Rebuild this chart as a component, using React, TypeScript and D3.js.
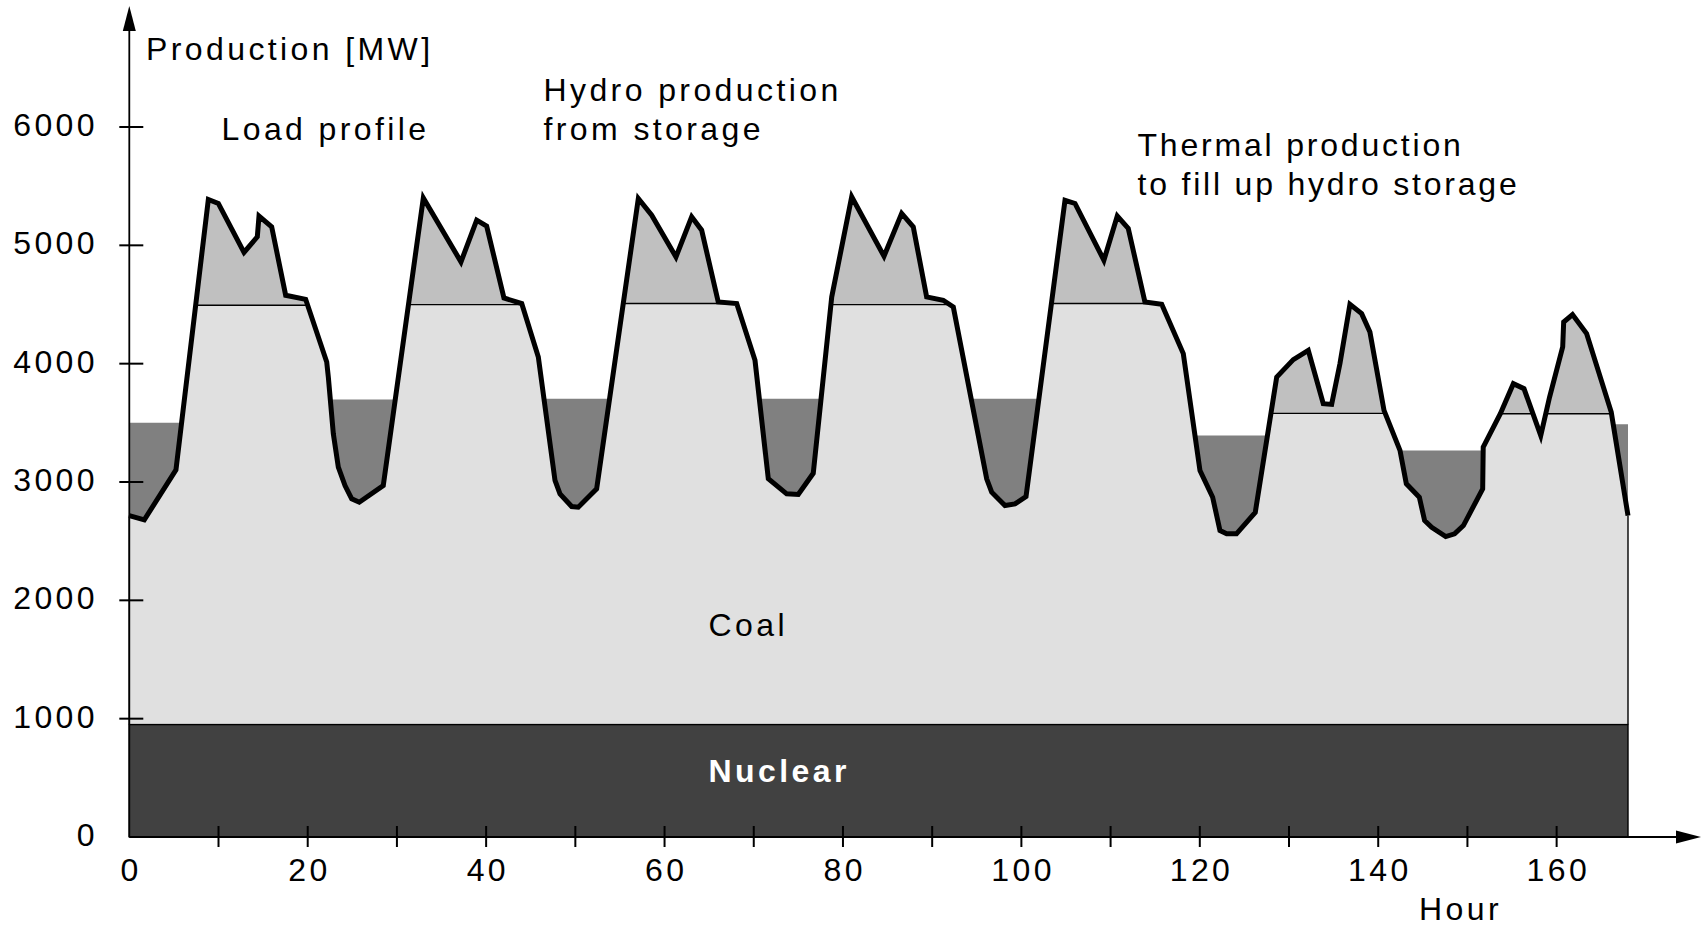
import React, { useRef, useEffect } from "react";
import * as d3 from "d3";

// load profile over one week, vertices
const loadHours = [
  0, 1.68, 5.23, 8.86, 9.98, 12.86, 14.35, 14.54, 15.96, 17.53, 19.77, 22.13, 22.31, 22.87, 23.43, 24.18,
  24.93, 25.78, 28.47, 32.96, 37.18, 38.94, 40.06, 42.0, 43.99, 45.85, 47.72, 48.28, 49.59, 50.33, 52.39,
  57.06, 58.56, 61.28, 63.04, 64.16, 66.02, 68.09, 70.14, 71.63, 73.69, 74.99, 76.67, 78.74, 80.98, 84.6,
  86.58, 87.88, 89.38, 91.24, 92.37, 96.11, 96.67, 98.16, 99.28, 100.52, 104.89, 106.01, 109.25, 110.75,
  111.98, 113.85, 115.73, 118.15, 120.02, 121.44, 122.26, 123.01, 124.11, 126.22, 128.62, 130.48, 132.16,
  133.84, 134.78, 135.71, 136.83, 138.14, 139.07, 140.65, 142.44, 143.15, 144.61, 145.2, 145.99, 147.57,
  148.56, 149.55, 151.71, 151.77, 153.69, 155.15, 156.34, 158.22, 159.21, 160.68, 160.79, 161.78, 163.36,
  166.12, 168,
];
const loadMW = [
  2716, 2680, 3103, 5388, 5354, 4940, 5072, 5247, 5156, 4578, 4544, 4014, 3887, 3408, 3125, 2970,
  2858, 2829, 2970, 5401, 4860, 5213, 5162, 4555, 4508, 4056, 3013, 2900, 2793, 2787, 2942,
  5396, 5254, 4902, 5241, 5128, 4521, 4508, 4028, 3027, 2900, 2894, 3074, 4564, 5410, 4908,
  5270, 5156, 4564, 4536, 4479, 3027, 2914, 2801, 2815, 2877, 5381, 5354, 4874, 5247,
  5143, 4521, 4502, 4085, 3097, 2871, 2590, 2562, 2562, 2744, 3887, 4034, 4113,
  3662, 3656, 4000, 4502, 4423, 4268, 3605, 3267, 2985, 2871, 2674, 2617, 2539,
  2562, 2632, 2942, 3294, 3577, 3831, 3789, 3393, 3718, 4141, 4352, 4415, 4254,
  3591, 2716,
];

// thermal production level, one block per night / day
// even blocks: thermal runs at least at this level (fills hydro storage)
// odd blocks: thermal is capped at this level (hydro covers the peak)
const levelStartHours = [0, 7, 21, 30.6, 45, 54.6, 70.3, 78, 93.5, 102.6, 118.5, 127.75, 141.5, 152.5, 166.25];
const levelMW = [3500, 4494, 3698, 4499, 3704, 4508, 3704, 4499, 3704, 4508, 3393, 3580, 3267, 3577, 3487];

const nuclearMW = 950;

const xTickHours = [10, 20, 30, 40, 50, 60, 70, 80, 90, 100, 110, 120, 130, 140, 150, 160];
const xLabelHours = [0, 20, 40, 60, 80, 100, 120, 140, 160];
const yTickMW = [1000, 2000, 3000, 4000, 5000, 6000];
const yLabelMW = [0, 1000, 2000, 3000, 4000, 5000, 6000];

const FONT = "'Liberation Sans', Arial, Helvetica, sans-serif";
const LS = 3.4;

function blockAt(h) {
  let k = 0;
  while (k + 1 < levelStartHours.length && h >= levelStartHours[k + 1]) k++;
  return k;
}

// split the load segments at block changes and at level crossings
function buildPoints() {
  const raw = [[loadHours[0], loadMW[0]]];
  for (let i = 0; i < loadHours.length - 1; i++) {
    const h0 = loadHours[i], h1 = loadHours[i + 1];
    const l0 = loadMW[i], l1 = loadMW[i + 1];
    const lerp = h => l0 + (l1 - l0) * (h - h0) / (h1 - h0);
    const cuts = [h0, ...levelStartHours.filter(s => s > h0 && s < h1), h1];
    for (let j = 0; j < cuts.length - 1; j++) {
      const u = cuts[j], v = cuts[j + 1];
      const L = levelMW[blockAt((u + v) / 2)];
      const lu = lerp(u), lv = lerp(v);
      if ((lu - L) * (lv - L) < 0) raw.push([u + (L - lu) / (lv - lu) * (v - u), L]);
      if (j < cuts.length - 2) raw.push([v, lv]);
    }
    raw.push([h1, l1]);
  }
  return raw.map(([hour, load]) => {
    const k = blockAt(hour);
    const level = levelMW[k];
    const cap = k % 2 === 1;
    const thermal = cap ? Math.min(load, level) : Math.max(load, level);
    return { hour, load, level, cap, thermal };
  });
}

function ProductionChart() {
  const svgRef = useRef(null);

  useEffect(() => {
    const width = 1702, height = 927;

    const x = d3.scaleLinear().domain([0, 168]).range([129.3, 1628]);
    const y = d3.scaleLinear().domain([0, 6000]).range([837, 127]);

    const pts = buildPoints();

    const svg = d3.select(svgRef.current);
    svg.selectAll("*").remove();
    svg.attr("width", width).attr("height", height);

    const coalArea = d3.area()
      .x(d => x(d.hour))
      .y0(y(nuclearMW))
      .y1(d => y(Math.min(d.load, d.thermal)));

    const storageArea = d3.area()
      .x(d => x(d.hour))
      .y0(d => y(Math.min(d.load, d.thermal)))
      .y1(d => y(d.thermal));

    const hydroArea = d3.area()
      .x(d => x(d.hour))
      .y0(d => y(d.thermal))
      .y1(d => y(Math.max(d.load, d.thermal)));

    svg.append("path").datum(pts).attr("d", coalArea).attr("fill", "#e0e0e0");
    svg.append("path").datum(pts).attr("d", storageArea).attr("fill", "#808080");
    svg.append("path").datum(pts).attr("d", hydroArea).attr("fill", "#c0c0c0");

    // cap line under the hydro peaks
    svg.append("path")
      .datum(pts)
      .attr("d", d3.line()
        .defined(d => d.cap && d.load >= d.level - 1e-6)
        .x(d => x(d.hour))
        .y(d => y(d.thermal)))
      .attr("fill", "none")
      .attr("stroke", "#000")
      .attr("stroke-width", 1.4);

    // coal edges at start and end of week
    svg.selectAll(".edge")
      .data([0, loadHours.length - 1])
      .join("line")
        .attr("x1", i => x(loadHours[i]))
        .attr("x2", i => x(loadHours[i]))
        .attr("y1", y(nuclearMW))
        .attr("y2", i => y(loadMW[i]))
        .attr("stroke", "#000")
        .attr("stroke-width", 1.4);

    // nuclear base
    svg.append("rect")
      .attr("x", x(0))
      .attr("y", y(nuclearMW))
      .attr("width", x(168) - x(0))
      .attr("height", y(0) - y(nuclearMW))
      .attr("fill", "#414141")
      .attr("stroke", "#000")
      .attr("stroke-width", 1.4);

    // load profile
    svg.append("path")
      .datum(loadHours.map((h, i) => [h, loadMW[i]]))
      .attr("d", d3.line().x(d => x(d[0])).y(d => y(d[1])))
      .attr("fill", "none")
      .attr("stroke", "#000")
      .attr("stroke-width", 5)
      .attr("stroke-linejoin", "miter");

    // axes
    const x0 = x(0), y0 = y(0);
    svg.append("line")
      .attr("x1", x0).attr("x2", x0).attr("y1", y0).attr("y2", 20)
      .attr("stroke", "#000").attr("stroke-width", 1.8);
    svg.append("path")
      .attr("d", `M${x0},6L${x0 - 6.5},31L${x0 + 6.5},31Z`)
      .attr("fill", "#000");
    svg.append("line")
      .attr("x1", x0).attr("x2", 1685).attr("y1", y0).attr("y2", y0)
      .attr("stroke", "#000").attr("stroke-width", 1.8);
    svg.append("path")
      .attr("d", `M1701,${y0}L1676,${y0 - 6.5}L1676,${y0 + 6.5}Z`)
      .attr("fill", "#000");

    svg.selectAll(".xtick")
      .data(xTickHours)
      .join("line")
        .attr("x1", d => x(d)).attr("x2", d => x(d))
        .attr("y1", y0 - 11).attr("y2", y0 + 10)
        .attr("stroke", "#000").attr("stroke-width", 2);

    svg.selectAll(".ytick")
      .data(yTickMW)
      .join("line")
        .attr("x1", x0 - 10).attr("x2", x0 + 14)
        .attr("y1", d => y(d)).attr("y2", d => y(d))
        .attr("stroke", "#000").attr("stroke-width", 2);

    const text = (str, tx, ty, anchor = "start", ls = LS) =>
      svg.append("text")
        .attr("x", tx)
        .attr("y", ty)
        .attr("text-anchor", anchor)
        .style("font-family", FONT)
        .style("font-size", "32px")
        .style("letter-spacing", `${ls}px`)
        .attr("fill", "#000")
        .text(str);

    xLabelHours.forEach(h => text(String(h), x(h) + LS / 2, 881, "middle"));
    yLabelMW.forEach(v => text(String(v), 98, y(v) + 9, "end"));

    text("Production [MW]", 146, 60);
    text("Hour", 1419, 920);
    text("Load profile", 221.5, 140);
    text("Hydro production", 543.5, 101);
    text("from storage", 543.5, 140);
    text("Thermal production", 1137.5, 156, "start", 2.8);
    text("to fill up hydro storage", 1137.5, 195, "start", 2.8);
    text("Coal", 708.5, 636);
    text("Nuclear", 708.6, 782)
      .attr("fill", "#fff")
      .style("font-weight", "bold");
  }, []);

  return (
    <svg ref={svgRef} style={{ position: "absolute", left: 0, top: 0, display: "block", background: "#fff" }}></svg>
  );
}

export default function App() {
  return <ProductionChart />;
}
